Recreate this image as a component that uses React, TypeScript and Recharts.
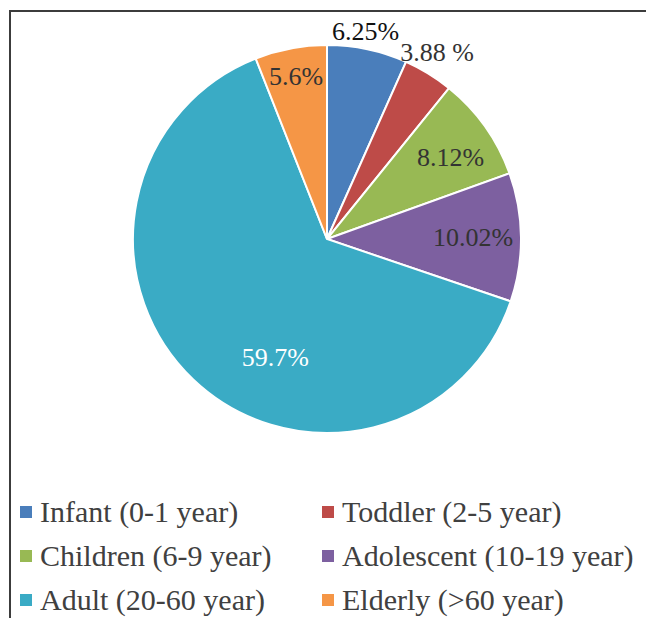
import { PieChart, Pie, Cell, Legend } from 'recharts'

const groups = [
  'Infant (0-1 year)',
  'Toddler (2-5 year)',
  'Children (6-9 year)',
  'Adolescent (10-19 year)',
  'Adult (20-60 year)',
  'Elderly (>60 year)',
]
const shares = [6.25, 3.88, 8.12, 10.02, 59.7, 5.6]
const shareLabels = ['6.25%', '3.88 %', '8.12%', '10.02%', '59.7%', '5.6%']
const colors = ['#4a7ebb', '#be4b48', '#98b954', '#7d60a0', '#3aabc5', '#f59646']

const data = groups.map((name, i) => ({ name, value: shares[i] }))

const SERIF = 'Liberation Serif, DejaVu Serif, serif'

// label placement (radius in px from centre, angle nudge in degrees), like excel's best fit
const labelPlace = [
  { r: 211, nudge: 1.5, fill: '#111' },
  { r: 217, nudge: 1, fill: '#333' },
  { r: 148, nudge: -2, fill: '#333' },
  { r: 146, nudge: 0, fill: '#333' },
  { r: 129, nudge: 20, fill: '#fff' },
  { r: 165, nudge: 0, fill: '#333' },
]

const RAD = Math.PI / 180

function renderLabel(props: any) {
  const { cx, cy, midAngle, index } = props
  const p = labelPlace[index]
  const a = (midAngle + p.nudge) * RAD
  const x = cx + p.r * Math.cos(-a)
  const y = cy + p.r * Math.sin(-a)
  return (
    <text
      x={x}
      y={y}
      fill={p.fill}
      textAnchor="middle"
      dominantBaseline="central"
      style={{ fontFamily: SERIF, fontSize: 26 }}
    >
      {shareLabels[index]}
    </text>
  )
}

function LegendGrid() {
  return (
    <div
      style={{
        display: 'grid',
        gridTemplateColumns: '302px 320px',
        rowGap: 11,
        fontFamily: SERIF,
        fontSize: 30,
        lineHeight: '33px',
        color: '#404040',
      }}
    >
      {groups.map((g, i) => (
        <div key={g} style={{ display: 'flex', alignItems: 'center', whiteSpace: 'nowrap' }}>
          <span
            style={{
              display: 'inline-block',
              width: 12,
              height: 12,
              background: colors[i],
              marginRight: 8,
            }}
          />
          {g}
        </div>
      ))}
    </div>
  )
}

export default function App() {
  return (
    <div
      style={{
        position: 'absolute',
        left: 0,
        top: 0,
        width: 646,
        height: 618,
        overflow: 'hidden',
        background: '#fff',
        fontFamily: SERIF,
      }}
    >
      <div
        style={{
          position: 'absolute',
          left: 9,
          top: 10,
          width: 660,
          height: 640,
          border: '2px solid #3c3c3c',
        }}
      />
      <div style={{ position: 'absolute', left: 0, top: 0 }}>
        <PieChart width={646} height={618} margin={{ top: 0, right: 0, bottom: 0, left: 0 }}>
          <Pie
            data={data}
            dataKey="value"
            nameKey="name"
            cx={327}
            cy={239}
            outerRadius={194}
            startAngle={90}
            endAngle={-270}
            stroke="#fff"
            strokeWidth={2}
            label={renderLabel}
            labelLine={false}
            isAnimationActive={false}
          >
            {data.map((d, i) => (
              <Cell key={d.name} fill={colors[i]} />
            ))}
          </Pie>
          <Legend
            content={() => <LegendGrid />}
            wrapperStyle={{ left: 20, top: 495, width: 640 }}
          />
        </PieChart>
      </div>
    </div>
  )
}
